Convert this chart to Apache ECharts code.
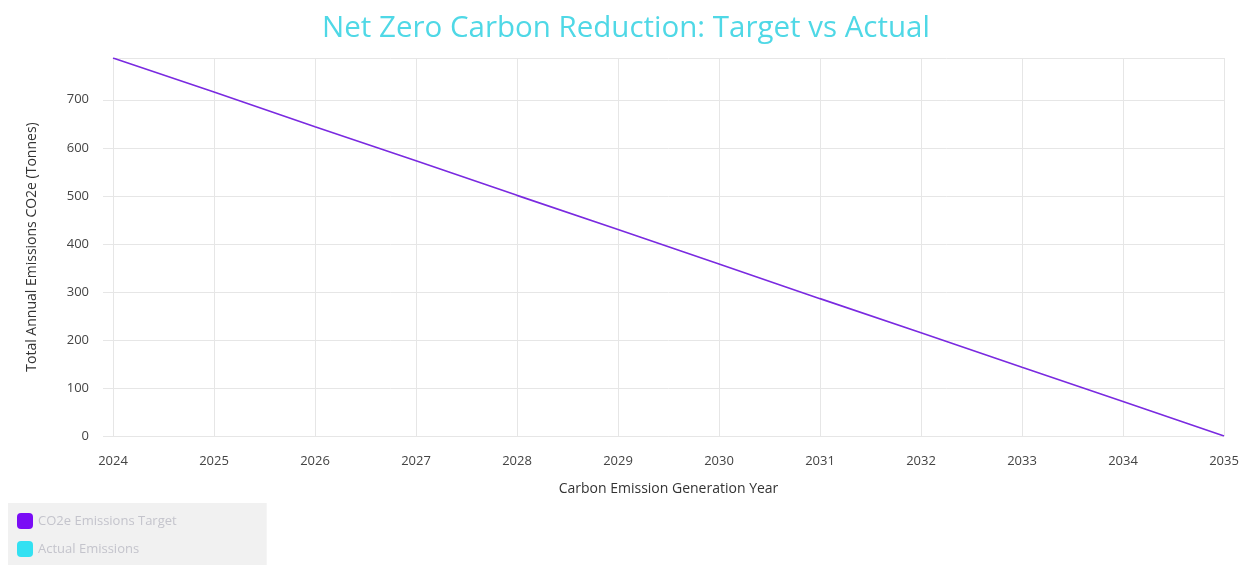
<!DOCTYPE html>
<html>
<head>
<meta charset="utf-8">
<script src="https://cdn.jsdelivr.net/npm/echarts@6/dist/echarts.min.js"></script>
<style>
html,body{margin:0;padding:0;background:#fff;}
#chart{width:1252px;height:565px;}
</style>
</head>
<body>
<div id="chart"></div>
<script>
const years = ['2024','2025','2026','2027','2028','2029','2030','2031','2032','2033','2034','2035'];
const targetValues = [787, 716, 644, 573, 501, 430, 358, 286, 215, 143, 72, 0];
const actualValues = [];
const yTicks = [0, 100, 200, 300, 400, 500, 600, 700];

const chart = echarts.init(document.getElementById('chart'));
const font = '"Open Sans", Lato, sans-serif';
chart.setOption({
  animation: false,
  textStyle: {fontFamily: font},
  title: {
    text: 'Net Zero Carbon Reduction: Target vs Actual',
    left: 'center', top: 9,
    textStyle: {color: '#4fd8e6', fontSize: 29.5, fontWeight: 'normal', fontFamily: font}
  },
  legend: {
    orient: 'vertical', left: 8, top: 503,
    backgroundColor: '#f1f1f1',
    padding: [10, 90, 8, 9],
    itemGap: 12,
    itemWidth: 16, itemHeight: 16,
    icon: 'roundRect',
    textStyle: {color: '#c4c4cc', fontSize: 13, fontFamily: font},
    data: ['CO2e Emissions Target', 'Actual Emissions']
  },
  grid: {left: 113, right: 28, top: 58, bottom: 129},
  xAxis: {
    type: 'category',
    data: years,
    boundaryGap: false,
    name: 'Carbon Emission Generation Year',
    nameLocation: 'middle',
    nameGap: 46,
    nameTextStyle: {color: '#333', fontSize: 14},
    axisLine: {show: true, lineStyle: {color: '#e6e6e6'}},
    axisTick: {show: false},
    axisLabel: {color: '#444', fontSize: 13, margin: 19},
    splitLine: {show: true, lineStyle: {color: '#e6e6e6'}}
  },
  yAxis: {
    type: 'value',
    min: 0,
    max: 'dataMax',
    interval: 100,
    name: 'Total Annual Emissions CO2e (Tonnes)',
    nameLocation: 'middle',
    nameGap: 74,
    nameTextStyle: {color: '#333', fontSize: 14},
    axisLine: {show: false},
    axisTick: {show: true, length: 10, lineStyle: {color: '#e6e6e6'}},
    axisLabel: {color: '#444', fontSize: 13, margin: 24,
      showMaxLabel: false},
    splitLine: {show: true, lineStyle: {color: '#e6e6e6'}}
  },
  series: [
    {
      name: 'CO2e Emissions Target',
      type: 'line',
      data: targetValues,
      showSymbol: false,
      symbol: 'none',
      itemStyle: {color: '#7a0cf5'},
      lineStyle: {color: '#7a2ae0', width: 1.6}
    },
    {
      name: 'Actual Emissions',
      type: 'line',
      data: actualValues,
      showSymbol: false,
      itemStyle: {color: '#33e1f2'},
      lineStyle: {color: '#33e1f2', width: 1.6}
    }
  ]
});
</script>
</body>
</html>
